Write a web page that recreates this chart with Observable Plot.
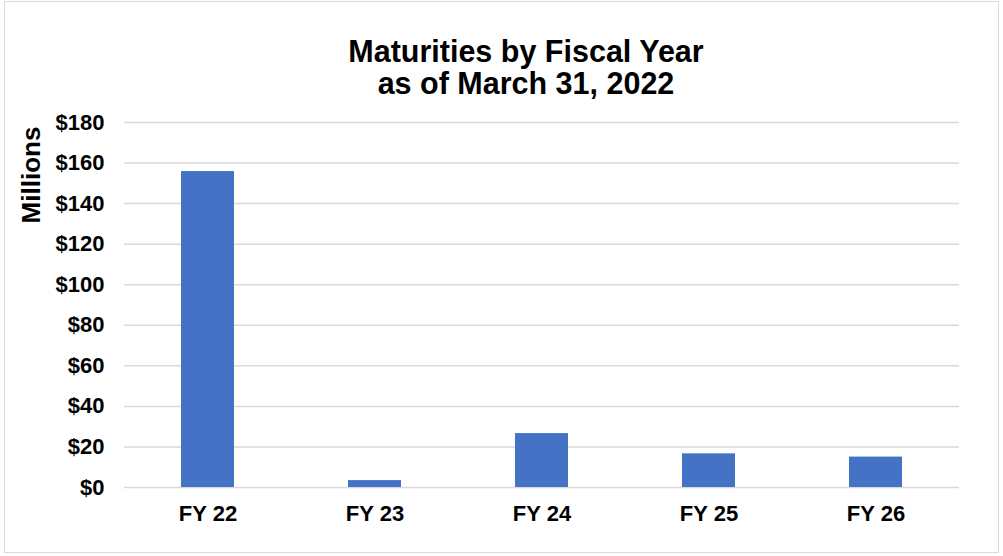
<!DOCTYPE html>
<html>
<head>
<meta charset="utf-8">
<script src="https://cdn.jsdelivr.net/npm/d3@7"></script>
<script src="https://cdn.jsdelivr.net/npm/@observablehq/plot@0.6"></script>
<style>
  html, body { margin: 0; padding: 0; background: #fff; }
  #wrap { position: relative; width: 1003px; height: 556px; overflow: hidden; font-family: Arial, "Liberation Sans", sans-serif; }
  #frame { position: absolute; left: 4px; top: 1px; width: 995px; height: 552px; border: 1.5px solid #d9d9d9; box-sizing: border-box; }
  #title { position: absolute; left: 276px; top: 35px; width: 500px; text-align: center; font-weight: bold; font-size: 30.5px; line-height: 32px; color: #000; }
  #ylab { position: absolute; left: 31px; top: 175px; width: 0; height: 0; }
  #ylab span { position: absolute; left: 0; top: 0; transform: translate(-50%, -50%) rotate(-90deg); white-space: nowrap; font-weight: bold; font-size: 26px; line-height: 26px; color: #000; }
  #chart { position: absolute; left: 0; top: 0; }
</style>
</head>
<body>
<div id="wrap">
  <div id="frame"></div>
  <div id="chart"></div>
  <div id="title">Maturities by Fiscal Year<br>as of March 31, 2022</div>
  <div id="ylab"><span>Millions</span></div>
</div>
<script>
const categories = ["FY 22", "FY 23", "FY 24", "FY 25", "FY 26"];
const maturities = [155.8, 3.4, 26.6, 16.6, 15.0];
const yTicks = [0, 20, 40, 60, 80, 100, 120, 140, 160, 180];

const data = categories.map((c, i) => ({fy: c, value: maturities[i]}));

const chart = Plot.plot({
  width: 1003,
  height: 556,
  marginTop: 122,
  marginBottom: 69,
  marginLeft: 124,
  marginRight: 44,
  style: {
    fontFamily: "Arial, 'Liberation Sans', sans-serif",
    fontSize: "22px",
    fontWeight: "bold",
    color: "#000",
    background: "transparent"
  },
  x: {
    domain: categories,
    paddingInner: 0.683,
    paddingOuter: 0.3415,
    label: null,
    tickSize: 0,
    tickPadding: 18
  },
  y: {
    domain: [0, 180],
    ticks: yTicks,
    tickFormat: d => "$" + d,
    label: null,
    tickSize: 0,
    tickPadding: 20
  },
  marks: [
    Plot.ruleY(yTicks, {stroke: "#d9d9d9", strokeWidth: 1.5}),
    Plot.barY(data, {x: "fy", y: "value", fill: "#4472c4"})
  ]
});
document.getElementById("chart").appendChild(chart);
</script>
</body>
</html>
